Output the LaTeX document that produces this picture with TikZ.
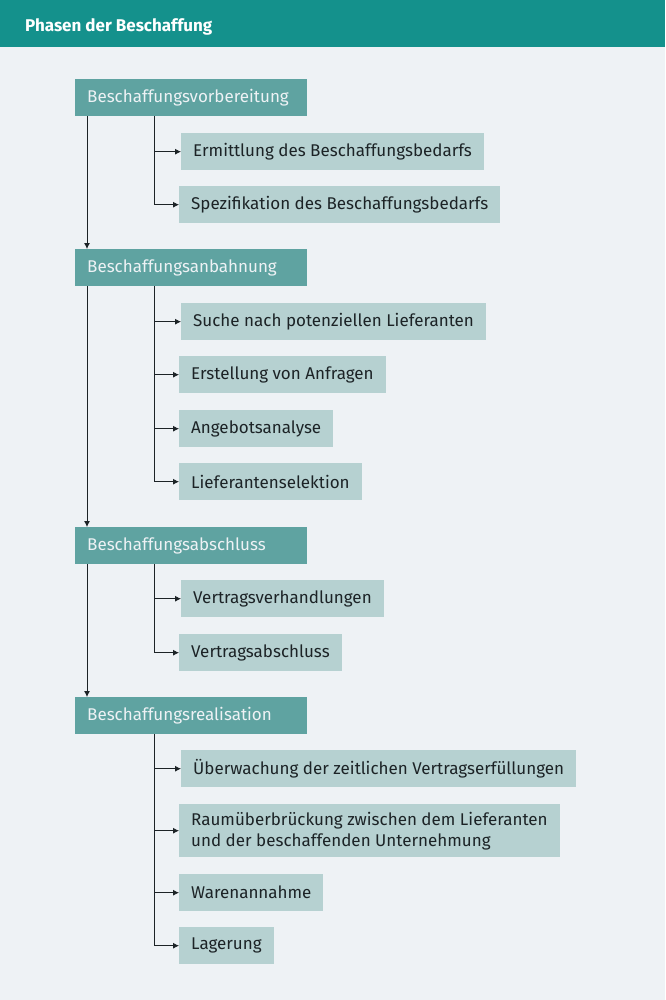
\documentclass[tikz,border=0pt]{standalone}
\usepackage{fontspec}
\setmainfont{Fira Sans}
\usetikzlibrary{positioning,arrows.meta}
\definecolor{kopf}{HTML}{14918C}
\definecolor{grund}{HTML}{EEF2F5}
\definecolor{phasefarbe}{HTML}{5FA3A1}
\definecolor{schrittfarbe}{HTML}{B6D1D1}
\definecolor{schrift}{HTML}{1C2326}
\tikzset{
  phase/.style={fill=phasefarbe,text=grund,anchor=north west,minimum width=232pt,minimum height=37pt,
    inner xsep=12pt,inner ysep=0pt,align=left,text width=208pt,font=\fontsize{17}{20}\selectfont},
  schritt/.style={fill=schrittfarbe,text=schrift,anchor=north west,minimum height=37pt,
    inner xsep=12pt,inner ysep=0pt,align=left,font=\fontsize{17}{21}\selectfont},
  pfeil/.style={-{Latex[length=6pt,width=6pt]},line width=0.8pt,draw=schrift},
  ast/.style={line width=0.8pt,draw=schrift}
}

\begin{document}
\begin{tikzpicture}[x=1pt,y=-1pt]
% Hintergrund und Kopfzeile
\fill[grund] (0,0) rectangle (665,1000);
\fill[kopf] (0,0) rectangle (665,47);
\node[anchor=west,inner sep=0pt,text=white,font=\fontsize{17}{20}\selectfont\bfseries] (titel) at (25,27) {Phasen der Beschaffung};
% Phasen
\node[phase] (p1) at (75,79) {Beschaffungsvorbereitung};
\node[phase] (p2) at (75,249) {Beschaffungsanbahnung};
\node[phase] (p3) at (75,527) {Beschaffungsabschluss};
\node[phase] (p4) at (75,697) {Beschaffungsrealisation};
% Teilschritte
\node[schritt] (s11) at (181,133) {Ermittlung des Beschaffungsbedarfs};
\node[schritt] (s12) at (179,186) {Spezifikation des Beschaffungsbedarfs};
\node[schritt] (s21) at (181,303) {Suche nach potenziellen Lieferanten};
\node[schritt] (s22) at (179,356) {Erstellung von Anfragen};
\node[schritt] (s23) at (179,410) {Angebotsanalyse};
\node[schritt] (s24) at (179,463) {Lieferantenselektion};
\node[schritt] (s31) at (181,580) {Vertragsverhandlungen};
\node[schritt] (s32) at (179,634) {Vertragsabschluss};
\node[schritt] (s41) at (181,750) {Überwachung der zeitlichen Vertragserfüllungen};
\node[schritt,minimum height=53pt] (s42) at (179,804) {Raumüberbrückung zwischen dem Lieferanten\\und der beschaffenden Unternehmung};
\node[schritt] (s43) at (179,874) {Warenannahme};
\node[schritt] (s44) at (179,927) {Lagerung};
% Hauptlinie
\foreach \a/\b in {p1/p2,p2/p3,p3/p4}
  \draw[pfeil] ([xshift=12pt]\a.south west) -- ([xshift=12pt]\b.north west);
% Verzweigungen
\foreach \p/\s in {p1/s11,p1/s12,p2/s21,p2/s22,p2/s23,p2/s24,p3/s31,p3/s32,p4/s41,p4/s42,p4/s43,p4/s44}
  \draw[pfeil] ([xshift=79pt]\p.south west) |- (\s.west);
\end{tikzpicture}
\end{document}
